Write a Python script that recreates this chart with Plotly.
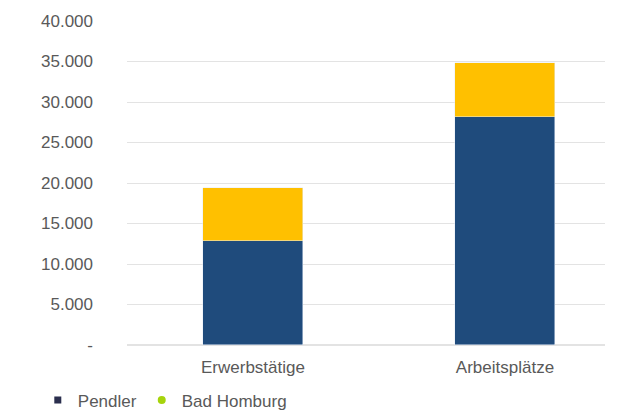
import plotly.graph_objects as go

categories = ["Erwerbstätige", "Arbeitsplätze"]
pendler = [12900, 28200]
bad_homburg = [6500, 6600]
tick_vals = [0, 5000, 10000, 15000, 20000, 25000, 30000, 35000, 40000]
tick_text = ["-", "5.000", "10.000", "15.000", "20.000", "25.000", "30.000", "35.000", "40.000"]

BLUE = "#1f4b7c"
YELLOW = "#ffc000"
FS = 17

fig = go.Figure()
fig.add_trace(go.Bar(x=categories, y=pendler, name="Pendler", marker_color=BLUE,
                     width=0.397, showlegend=False))
fig.add_trace(go.Bar(x=categories, y=bad_homburg, name="Bad Homburg", marker_color=YELLOW,
                     width=0.397, showlegend=False))
# legend entries
fig.add_trace(go.Scatter(x=[None], y=[None], mode="markers", name="Pendler",
                         marker=dict(symbol="square", size=7, color="#2b2f4e")))
fig.add_trace(go.Scatter(x=[None], y=[None], mode="markers", name="Bad Homburg",
                         marker=dict(symbol="circle", size=8, color="#a6d40c")))

fig.update_layout(
    barmode="stack",
    width=630, height=412,
    margin=dict(l=127, r=25, t=21, b=67, autoexpand=False),
    paper_bgcolor="white", plot_bgcolor="white",
    font=dict(family="Liberation Sans, Arial, sans-serif", size=FS, color="#595959"),
    bargap=0,
    xaxis=dict(range=[-0.5, 1.397], showgrid=False, showline=False, ticks="",
               ticklabelstandoff=10, automargin=False,
               tickfont=dict(size=FS, color="#595959")),
    yaxis=dict(range=[0, 40000], tickvals=tick_vals, ticktext=tick_text,
               showgrid=True, gridcolor="#e3e3e3", gridwidth=1,
               zeroline=True, zerolinecolor="#e3e3e3", showline=False,
               automargin=False,
               ticklabelstandoff=33, tickfont=dict(size=FS, color="#595959")),
    legend=dict(orientation="h", xref="container", yref="container",
                x=0.06, y=0.028, xanchor="left", yanchor="middle",
                traceorder="normal",
                font=dict(size=FS, color="#595959"), itemwidth=30,
                tracegroupgap=0),
)

fig.write_html("out.html")
